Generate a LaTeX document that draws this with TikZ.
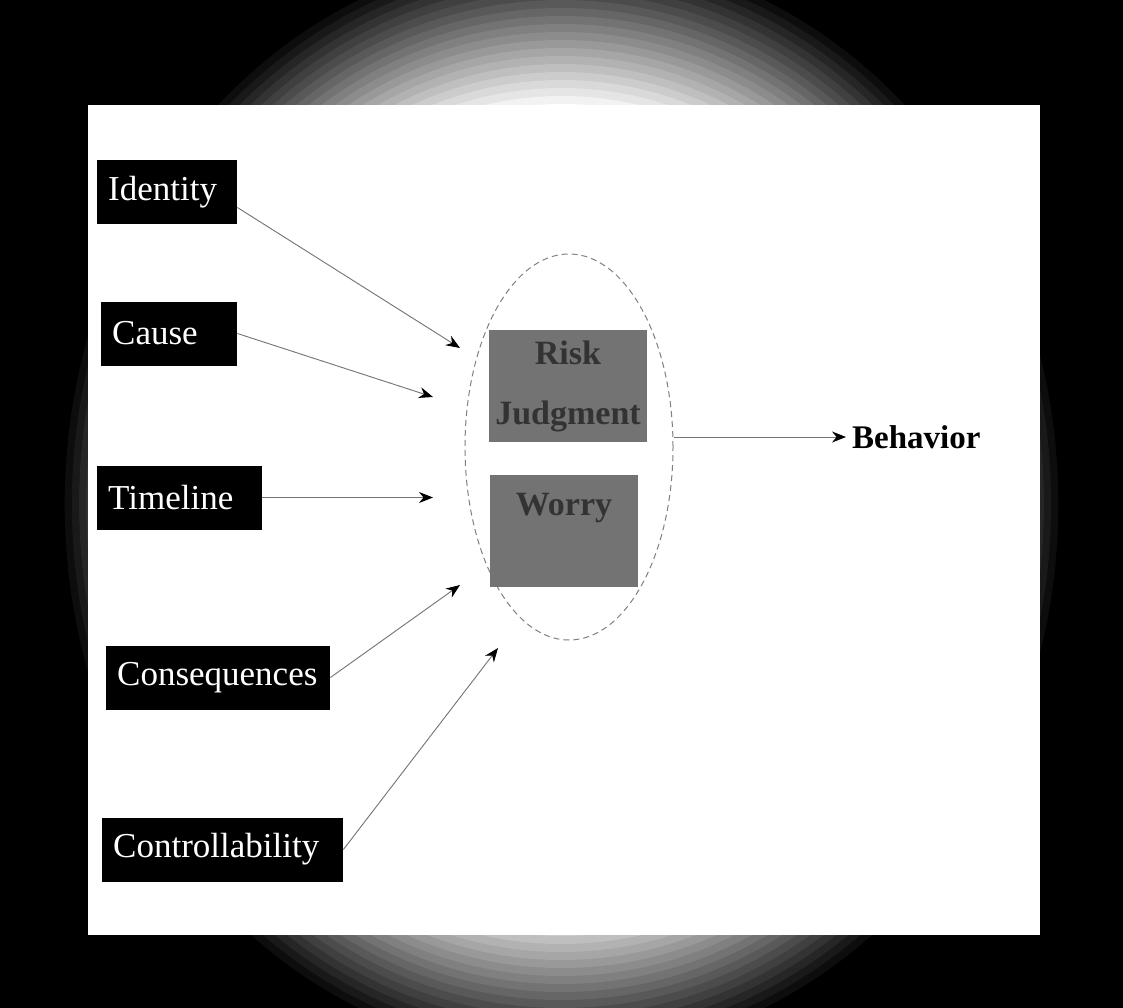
\documentclass[tikz,border=0pt]{standalone}
\usepackage{fontspec}
\setmainfont{Liberation Serif}
\usetikzlibrary{arrows.meta, positioning, shapes.geometric, calc}
\tikzset{
  factor/.style ={rectangle, fill=black, text=white, anchor=west, align=left,
                  inner xsep=11pt, inner ysep=0pt, minimum height=64pt,
                  font=\fontsize{35}{40}\selectfont},
  judge/.style  ={rectangle, fill=black!55, text=black!80, align=center,
                  inner sep=0pt, font=\fontsize{34}{60}\selectfont\bfseries},
  hull/.style   ={ellipse, draw=black!50, line width=1pt,
                  dash pattern=on 6pt off 4pt, inner sep=0pt},
  arrow/.style  ={-{Stealth[length=14pt, width=11pt, black]}, line width=0.9pt, black!55},
  outcome/.style={anchor=west, inner xsep=6pt, font=\fontsize{33}{40}\selectfont\bfseries}
}
\begin{document}
\begin{tikzpicture}[x=1pt, y=-1pt]
\useasboundingbox (0,0) rectangle (1123,1008);
% glowing frame
\begin{scope}
  \clip (0,0) rectangle (1123,1008);
  \fill[black] (0,0) rectangle (1123,1008);
  \foreach \r in {560,552,...,400}{
    \pgfmathsetmacro{\shadepct}{max(0,min(100,(\r-400)*100/160))}
    \fill[black!\shadepct!white] (561.5,504) ellipse [x radius=0.9*\r, y radius=\r];
  }
\end{scope}
\fill[white] (88,105) rectangle (1040,935);

% illness representation
\node[factor, text width=118pt] (identity) at (97,192.5)  {Identity};
\node[factor, text width=114pt] (cause)    at (101,333.5) {Cause};
\node[factor, text width=143pt] (timeline) at (97,497.5)  {Timeline};
\node[factor, text width=202pt] (conseq)   at (106,677.5) {Consequences};
\node[factor, text width=219pt] (control)  at (102,849.5) {Controllability};

% appraisal
\node[hull, minimum width=208pt, minimum height=386pt] (rep) at (569,447) {};
\node[judge, minimum width=158pt, minimum height=112pt] (risk) at (568,386) {Risk\\Judgment};
\node[judge, minimum width=148pt, minimum height=112pt,
      text height=23pt, text depth=55pt, below=33pt of risk.south, xshift=-4pt] (worry) {Worry};
\node[outcome] (behav) at (846,437) {Behavior};

\coordinate (inA) at (460,348);
\coordinate (inB) at (433,397);
\coordinate (inC) at (433,497.5);
\coordinate (inD) at (460,585);
\coordinate (inE) at (498,648);

\draw[arrow] ([yshift=-15pt]identity.east) -- (inA);
\draw[arrow] (cause.east)    -- (inB);
\draw[arrow] (timeline.east) -- (inC);
\draw[arrow] (conseq.east)   -- (inD);
\draw[arrow] (control.east)  -- (inE);
\draw[arrow] ([yshift=10pt]rep.east) -- (behav.west);
\end{tikzpicture}
\end{document}
